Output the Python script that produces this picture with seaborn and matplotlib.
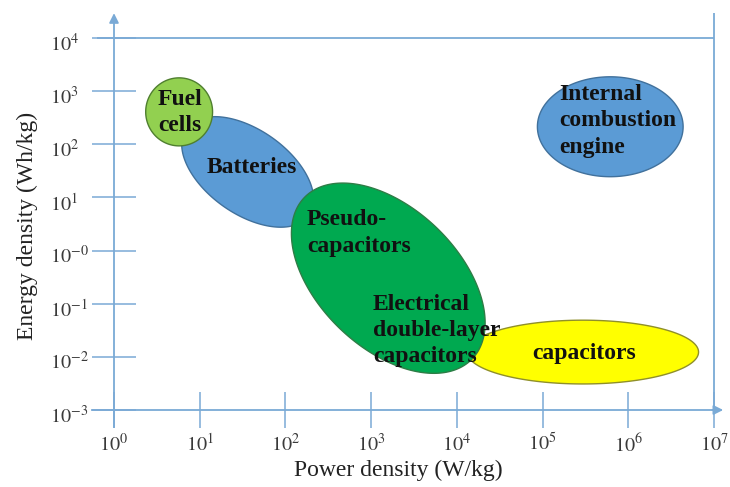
import numpy as np
import matplotlib
matplotlib.use('Agg')
import matplotlib.pyplot as plt
import matplotlib.transforms as mtransforms
import seaborn as sns

sns.set_theme(style='white')
plt.rcParams['font.family'] = ['Liberation Serif', 'DejaVu Serif']
plt.rcParams['mathtext.fontset'] = 'stix'

# Ragone regions, in decades (log10 of W/kg and Wh/kg)
technologies = ['capacitors', 'Batteries', 'Pseudo-capacitors / EDLC', 'Fuel cells', 'Internal combustion engine']
log_power_center = [5.47, 1.56, 3.20, 0.76, 5.79]
log_energy_center = [-1.91, 1.48, -0.52, 2.61, 2.33]
log_power_halfspan = [1.35, 0.77, 1.13, 0.39, 0.85]
log_energy_halfspan = [0.60, 1.04, 1.79, 0.64, 0.94]
tilt = [0.0, -0.50, -0.47, 0.0, 0.0]

fills = ['#ffff00', '#5b9bd5', '#00a950', '#92d050', '#5b9bd5']
edges = ['#8f8f2a', '#41719c', '#2e7d46', '#4f7f2f', '#41719c']

# text labels
label_text = ['capacitors', 'Batteries', 'Pseudo-\ncapacitors',
              'Electrical\ndouble-layer\ncapacitors', 'Fuel\ncells',
              'Internal\ncombustion\nengine']
label_x = [5.48, 1.61, 2.25, 3.02, 0.77, 5.20]
label_y = [-1.93, 1.57, 0.33, -1.50, 2.59, 2.44]
label_ha = ['center', 'center', 'left', 'left', 'center', 'left']

x_ticks = list(range(0, 8))
y_ticks = list(range(-3, 5))
x_ticklabels = ['$10^{%d}$' % k for k in x_ticks]
y_ticklabels = ['$10^{%d}$' % k if k != 0 else '$10^{-0}$' for k in y_ticks]

axis_col = '#7aaad6'

fig = plt.figure(figsize=(7.3, 4.87), dpi=100)
ax = fig.add_axes([0, 0, 1, 1])
ax.set_xlim(-1.330, 7.187)
ax.set_ylim(-4.449, 4.715)
ax.patch.set_alpha(0)

t = np.linspace(0, 2 * np.pi, 300)
for cx, cy, hw, hh, r, fc, ec in zip(log_power_center, log_energy_center,
                                     log_power_halfspan, log_energy_halfspan,
                                     tilt, fills, edges):
    ex = cx + hw * np.cos(t)
    ey = cy + hh * (r * np.cos(t) + np.sqrt(1 - r ** 2) * np.sin(t))
    ax.fill(ex, ey, facecolor=fc, edgecolor=ec, linewidth=1.0, zorder=3)

for txt, lx, ly, ha in zip(label_text, label_x, label_y, label_ha):
    ax.text(lx, ly, txt, ha=ha, va='center', multialignment=ha,
            fontsize=17, fontweight='bold', color='#111111',
            linespacing=1.32, zorder=5)

# axes drawn as in the original figure
sns.despine(ax=ax, top=True, right=True)
ax.spines['left'].set_position(('data', 0))
ax.spines['bottom'].set_position(('data', -3))
ax.spines['left'].set_bounds(-3.32, 4.40)
ax.spines['bottom'].set_bounds(-0.257, 7.05)
for s in ['left', 'bottom']:
    ax.spines[s].set_color(axis_col)
    ax.spines[s].set_linewidth(1.3)
ax.hlines(4, -0.2, 7, color=axis_col, lw=1.3, zorder=1)
ax.vlines(7, -3, 4.47, color=axis_col, lw=1.3, zorder=1)
ax.annotate('', xy=(0, 4.52), xytext=(0, 4.3),
            arrowprops=dict(arrowstyle='-|>', color=axis_col, lw=1.3, mutation_scale=14))
ax.annotate('', xy=(7.14, -3), xytext=(6.95, -3),
            arrowprops=dict(arrowstyle='-|>', color=axis_col, lw=1.3, mutation_scale=14))

ax.set_xticks(x_ticks)
ax.set_xticklabels(x_ticklabels)
ax.set_yticks(y_ticks)
ax.set_yticklabels(y_ticklabels, ha='left')
ax.tick_params(axis='x', direction='inout', length=26, width=1.1, color=axis_col,
               pad=4, labelsize=14.5, labelcolor='#3a3a3a', bottom=True)
ax.tick_params(axis='y', direction='inout', length=32, width=1.1, color=axis_col,
               pad=30, labelsize=14.5, labelcolor='#3a3a3a', left=True)
shift = mtransforms.ScaledTranslation(0, -3 / 72, fig.dpi_scale_trans)
for lab in ax.get_yticklabels():
    lab.set_transform(lab.get_transform() + shift)

ax.set_xlabel('Power density (W/kg)', fontsize=17, color='#222222')
ax.xaxis.set_label_coords(0.545, 0.056)
ax.set_ylabel('Energy density (Wh/kg)', fontsize=17, color='#222222')
ax.yaxis.set_label_coords(0.052, 0.536)

fig.savefig('out.png', dpi=100)
